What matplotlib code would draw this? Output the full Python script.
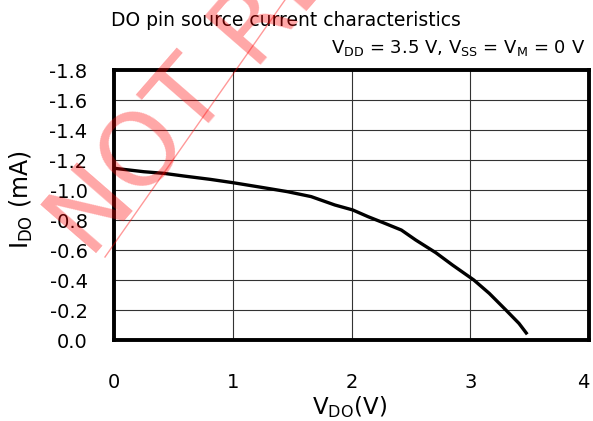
"""
DO pin source current characteristics (datasheet style curve with watermark).
Produces out.png
"""

import numpy as np
import matplotlib
matplotlib.use("Agg")
import matplotlib.pyplot as plt
from matplotlib.lines import Line2D

# curve
v_do = [0.0, 0.25, 0.42, 0.59, 0.81, 1.0, 1.24, 1.46, 1.66, 1.86, 2.01,
        2.14, 2.28, 2.42, 2.54, 2.71, 2.85, 3.03, 3.16, 3.30, 3.41, 3.48]
i_do = [-1.145, -1.122, -1.111, -1.093, -1.071, -1.049, -1.018, -0.989, -0.956,
        -0.900, -0.867, -0.822, -0.778, -0.733, -0.667, -0.582, -0.500, -0.400,
        -0.311, -0.200, -0.111, -0.038]

x_ticks = [0, 1, 2, 3, 4]
y_ticks = [0.0, -0.2, -0.4, -0.6, -0.8, -1.0, -1.2, -1.4, -1.6, -1.8]

TITLE = "DO pin source current characteristics"
CONDITIONS = r"V$_{\mathrm{DD}}$ = 3.5 V, V$_{\mathrm{SS}}$ = V$_{\mathrm{M}}$ = 0 V"
WATERMARK = "NOT RECOMMENDED"

plt.rcParams["font.family"] = "DejaVu Sans"
plt.rcParams["mathtext.fontset"] = "dejavusans"

W, H = 593, 421
fig = plt.figure(figsize=(W / 100, H / 100), dpi=100)
ax = fig.add_axes([114 / W, 1 - 340 / H, (589 - 114) / W, (340 - 70) / H])

ax.plot(v_do, i_do, color="black", linewidth=2.4, solid_capstyle="butt")

ax.set_xlim(0, 4)
ax.set_ylim(0, -1.8)
ax.set_xticks(x_ticks)
ax.set_yticks(y_ticks)
ax.set_xticklabels([str(t) for t in x_ticks])
ax.set_yticklabels([f"{t:.1f}" if t != 0 else "0.0" for t in y_ticks])
ax.tick_params(axis="both", length=0, labelsize=14)
ax.tick_params(axis="x", pad=24)
ax.tick_params(axis="y", pad=19)
ax.get_xticklabels()[-1].set_horizontalalignment("right")
ax.grid(True, color="#333333", linewidth=0.8)
for s in ax.spines.values():
    s.set_linewidth(2.8)

fig.text(349 / W, 1 - 407 / H, r"V$_{\mathrm{DO}}$(V)", fontsize=16.5,
         ha="center", va="center")
fig.text(21 / W, 1 - 200 / H, r"I$_{\mathrm{DO}}$ (mA)", fontsize=17,
         ha="center", va="center", rotation=90)
fig.text(111 / W, 1 - 20 / H, TITLE, fontsize=13.5, ha="left", va="center")
fig.text(585 / W, 1 - 48 / H, CONDITIONS, fontsize=13, ha="right", va="center")

# watermark
fig.text(90 / W, 1 - 260 / H, WATERMARK, fontsize=73,
         color="red", alpha=0.35,
         rotation=49, rotation_mode="anchor", ha="left", va="baseline",
         zorder=10)
ang = np.radians(55)
L = 600
fig.add_artist(Line2D([105 / W, (105 + np.cos(ang) * L) / W],
                      [1 - 257 / H, 1 - (257 - np.sin(ang) * L) / H],
                      transform=fig.transFigure, color="red", alpha=0.4,
                      linewidth=1.0, zorder=10))

fig.savefig("out.png", dpi=100)
